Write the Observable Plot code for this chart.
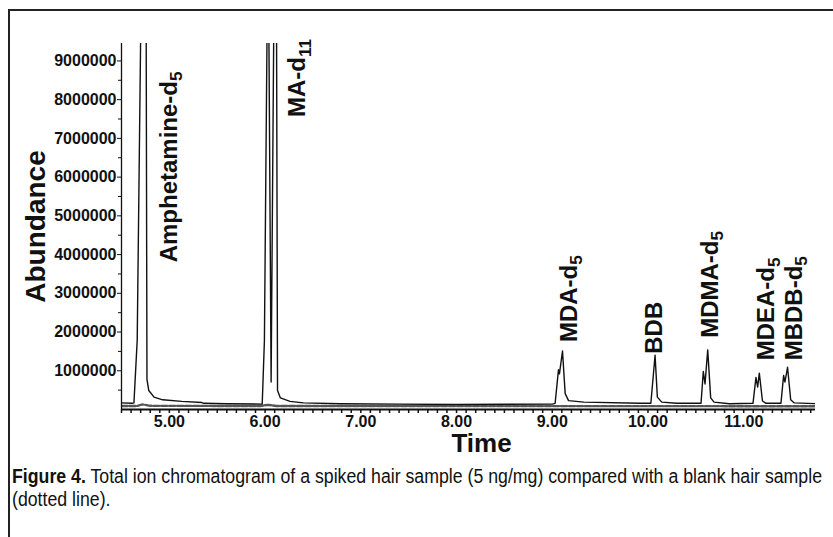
<!DOCTYPE html>
<html><head><meta charset="utf-8">
<script src="https://cdn.jsdelivr.net/npm/d3@7"></script>
<script src="https://cdn.jsdelivr.net/npm/@observablehq/plot@0.6"></script>
<style>
html,body{margin:0;padding:0;background:#fff;}
body{width:833px;height:537px;position:relative;overflow:hidden;font-family:"Liberation Sans",Arial,sans-serif;}
#frame{position:absolute;left:8px;top:9px;width:840px;height:540px;border-top:2px solid #222;border-left:2px solid #222;}
#chart{position:absolute;left:0;top:0;}
#caption{position:absolute;left:12px;top:465px;font-family:"Liberation Sans",Arial,sans-serif;font-size:20px;line-height:23px;color:#111;white-space:nowrap;}
#caption span{display:inline-block;transform-origin:0 50%;}
</style></head>
<body>
<div id="frame"></div>
<div id="chart"></div>
<div id="caption"><div><span id="cap1"><b>Figure 4.</b> Total ion chromatogram of a spiked hair sample (5 ng/mg) compared with a blank hair sample</span></div><div><span id="cap2">(dotted line).</span></div></div>
<script>
// ---- data ----
const spikedTime = [4.50,4.61,4.63,4.664,4.70,4.73,4.758,4.766,4.785,4.84,4.93,5.13,5.34,5.36,5.60,5.97,5.993,6.02,6.03,6.04,6.063,6.09,6.104,6.12,6.13,6.16,6.26,6.40,6.79,7.40,8.00,9.00,9.03,9.065,9.075,9.107,9.135,9.17,9.33,9.92,10.03,10.074,10.098,10.144,10.30,10.554,10.578,10.596,10.624,10.655,10.69,10.85,11.097,11.128,11.146,11.163,11.196,11.233,11.389,11.417,11.431,11.458,11.491,11.528,11.75];
const spikedAbundance = [170000,160000,170000,1780000,9600000,15000000,9600000,780000,490000,320000,250000,210000,180000,160000,150000,140000,1780000,9600000,14000000,9600000,710000,9600000,14000000,9600000,490000,300000,210000,170000,150000,140000,130000,140000,160000,1030000,920000,1510000,410000,230000,190000,160000,160000,1400000,320000,190000,160000,160000,980000,660000,1540000,300000,190000,150000,160000,830000,580000,940000,220000,160000,160000,880000,710000,1090000,250000,170000,150000];
const blankTime = [4.50,4.66,4.72,4.80,5.95,6.03,6.12,11.75];
const blankAbundance = [90000,90000,130000,95000,90000,120000,90000,85000];

const labelNames = ["Amphetamine-d5","MA-d11","MDA-d5","BDB","MDMA-d5","MDEA-d5","MBDB-d5"];
const labelTime = [5.00,6.34,9.18,10.07,10.65,11.24,11.53];
const labelAbundance = [3800000,7550000,1740000,1440000,1850000,1270000,1270000];

const xDomain = [4.5, 11.75];
const yDomain = [0, 9450000];
const xTicks = [5,6,7,8,9,10,11];
const xTickLabels = ["5.00","6.00","7.00","8.00","9.00","10.00","11.00"];
const xMinorTicks = [4.5,4.6,4.7,4.8,4.9,5.1,5.2,5.3,5.4,5.5,5.6,5.7,5.8,5.9,6.1,6.2,6.3,6.4,6.5,6.6,6.7,6.8,6.9,7.1,7.2,7.3,7.4,7.5,7.6,7.7,7.8,7.9,8.1,8.2,8.3,8.4,8.5,8.6,8.7,8.8,8.9,9.1,9.2,9.3,9.4,9.5,9.6,9.7,9.8,9.9,10.1,10.2,10.3,10.4,10.5,10.6,10.7,10.8,10.9,11.1,11.2,11.3,11.4,11.5,11.6,11.7];
const yTicks = [1000000,2000000,3000000,4000000,5000000,6000000,7000000,8000000,9000000];
const yTickLabels = ["1000000","2000000","3000000","4000000","5000000","6000000","7000000","8000000","9000000"];
const yMinorTicks = [500000,1500000,2500000,3500000,4500000,5500000,6500000,7500000,8500000];

const spiked = spikedTime.map((t, i) => ({t, v: spikedAbundance[i]}));
const blank = blankTime.map((t, i) => ({t, v: blankAbundance[i]}));
const labels = labelNames.map((n, i) => ({n, t: labelTime[i], v: labelAbundance[i]}));

const FONT = "Liberation Sans, Arial, Helvetica, sans-serif";

const chart = Plot.plot({
  width: 833,
  height: 460,
  marginLeft: 121,
  marginRight: 18,
  marginTop: 43,
  marginBottom: 51,
  style: {fontFamily: FONT, color: "#111", background: "transparent", overflow: "visible"},
  x: {domain: xDomain, label: null},
  y: {domain: yDomain, label: null},
  marks: [
    Plot.axisX({ticks: xMinorTicks, tickSize: 4, tickFormat: () => "", strokeWidth: 1.5, label: null}),
    Plot.axisX({ticks: xTicks, tickSize: 4, tickPadding: 2, fontSize: 16, fontWeight: "bold",
      tickFormat: d => xTickLabels[xTicks.indexOf(d)], strokeWidth: 1.5, label: null}),
    Plot.axisY({ticks: yMinorTicks, tickSize: 3, tickFormat: () => "", label: null}),
    Plot.axisY({ticks: yTicks, tickSize: 4, tickPadding: 1, fontSize: 16, fontWeight: "bold",
      tickFormat: d => yTickLabels[yTicks.indexOf(d)], label: null}),
    Plot.line(blank, {x: "t", y: "v", stroke: "#555", strokeWidth: 2.4, strokeDasharray: "6,2", clip: true}),
    Plot.line(spiked, {x: "t", y: "v", stroke: "#111", strokeWidth: 1.4, clip: true}),
    Plot.ruleY([yDomain[0]], {stroke: "#111", strokeWidth: 2.2}),
    Plot.ruleX([xDomain[0]], {stroke: "#111", strokeWidth: 1.3}),
    Plot.text(labels, {x: "t", y: "v", text: "n", rotate: -90, textAnchor: "start",
      fontSize: 24, fontWeight: "bold", fill: "#111"}),
    Plot.text(["Abundance"], {text: d => d, frameAnchor: "left", dx: -85, rotate: -90,
      textAnchor: "middle", lineAnchor: "middle", fontSize: 28, fontWeight: "bold", fill: "#111"}),
    Plot.text(["Time"], {text: d => d, frameAnchor: "bottom", dx: 13, dy: 34,
      textAnchor: "middle", lineAnchor: "middle", fontSize: 26, fontWeight: "bold", fill: "#111"})
  ]
});
document.getElementById("chart").appendChild(chart);

// subscripts on peak labels
d3.select(chart).selectAll("text").each(function() {
  const s = this.textContent;
  if (!labelNames.includes(s)) return;
  const m = s.match(/^(.*-d)(\d+)$/);
  if (m) {
    const el = d3.select(this);
    el.text(null);
    el.append("tspan").text(m[1]);
    el.append("tspan").attr("font-size", "72%").attr("dy", "0.3em").text(m[2]);
  }
});

// fit caption: condense horizontally so line 1 spans the reference width
const c1 = document.getElementById("cap1");
const w = c1.getBoundingClientRect().width;
const k = 810 / w;
document.getElementById("cap1").style.transform = "scaleX(" + k + ")";
document.getElementById("cap2").style.transform = "scaleX(" + k + ")";
</script>
</body></html>
